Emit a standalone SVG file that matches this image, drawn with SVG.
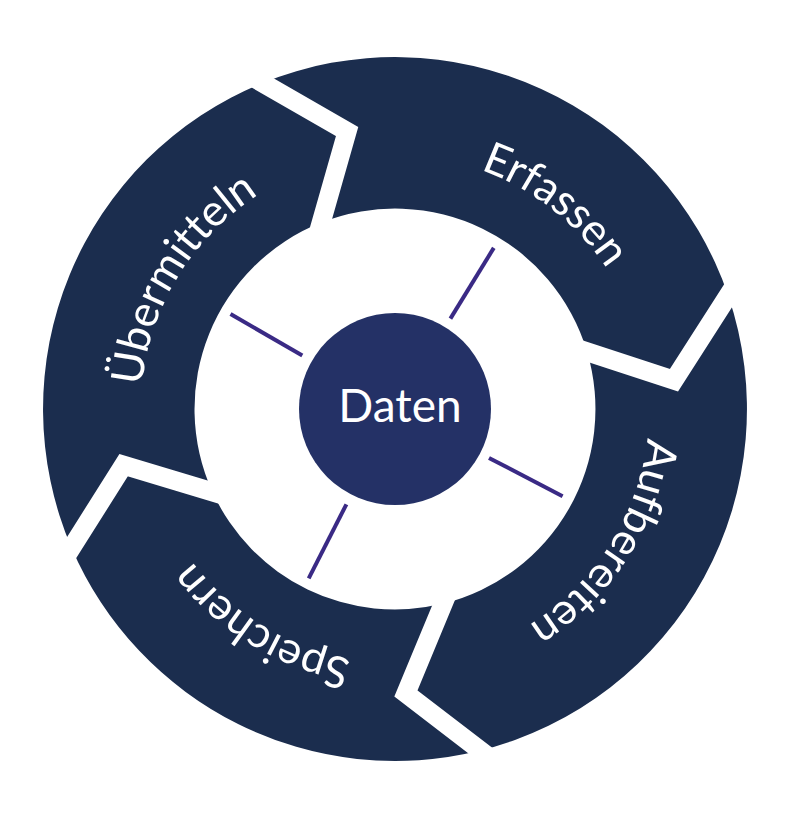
<svg xmlns="http://www.w3.org/2000/svg" width="800" height="814" viewBox="0 0 800 814">
  <style>
    .seg { fill: #1b2d4e; }
    .lbl { fill: #ffffff; font-family: Lato, "Open Sans", sans-serif; font-size: 44px; font-variant-ligatures: none; font-feature-settings: "liga" 0, "clig" 0; }
    .spoke { stroke: #3a2a85; stroke-width: 4; fill: none; }
    .gap { stroke: #000000; stroke-width: 19; fill: none; stroke-linejoin: miter; stroke-miterlimit: 10; }
  </style>
  <defs>
    <mask id="gaps" maskUnits="userSpaceOnUse" x="0" y="0" width="800" height="814">
      <rect x="0" y="0" width="800" height="814" fill="#ffffff"/>
      <polyline class="gap" points="237.2,68.3 347.1,131.5 313.4,249.9"/>
      <polyline class="gap" points="744.5,270.2 674.0,380.2 561.0,343.2"/>
      <polyline class="gap" points="502.5,767.6 405.9,693.5 454.4,576.6"/>
      <polyline class="gap" points="55.9,572.5 123.6,465.2 239.0,499.8"/>
    </mask>
    <path id="pErfassen" d="M225.4,219.9 A254,254 0 0 1 619.1,528.6"/>
    <path id="pAufbereiten" d="M566.3,221.4 A254,254 0 0 1 298.2,643.8"/>
    <path id="pSpeichern" d="M585.2,577.3 A254,254 0 0 1 158.7,315.9"/>
    <path id="pUebermitteln" d="M227.0,599.5 A254,254 0 0 1 487.7,172.5"/>
  </defs>
  <rect x="0" y="0" width="800" height="814" fill="#ffffff"/>
  <g id="ring" mask="url(#gaps)">
    <g id="erfassen">
      <path class="seg" d="M262.6,82.9 A352,352 0 0 1 728.2,295.6 L674.0,380.2 L587.1,351.7 A200.5,200.5 0 0 0 321.2,222.6 L347.1,131.5 Z"/>
      <text class="lbl"><textPath href="#pErfassen" startOffset="50%" text-anchor="middle">Erfassen</textPath></text>
    </g>
    <g id="aufbereiten">
      <path class="seg" d="M728.2,295.6 A352,352 0 0 1 480.2,750.5 L405.9,693.5 L443.2,603.6 A200.5,200.5 0 0 0 587.1,351.7 L674.0,380.2 Z"/>
      <text class="lbl"><textPath href="#pAufbereiten" startOffset="50%" text-anchor="middle">Aufbereiten</textPath></text>
    </g>
    <g id="speichern">
      <path class="seg" d="M480.2,750.5 A352,352 0 0 1 71.5,547.7 L123.6,465.2 L212.4,491.8 A200.5,200.5 0 0 0 443.2,603.6 L405.9,693.5 Z"/>
      <text class="lbl"><textPath href="#pSpeichern" startOffset="50%" text-anchor="middle">Speichern</textPath></text>
    </g>
    <g id="uebermitteln">
      <path class="seg" d="M71.5,547.7 A352,352 0 0 1 262.6,82.9 L347.1,131.5 L321.2,222.6 A200.5,200.5 0 0 0 212.4,491.8 L123.6,465.2 Z"/>
      <text class="lbl"><textPath href="#pUebermitteln" startOffset="50%" text-anchor="middle">Übermitteln</textPath></text>
    </g>
  </g>
  <g id="connectors">
    <line class="spoke" x1="302.3" y1="355.5" x2="230.5" y2="314.0"/>
    <line class="spoke" x1="450.4" y1="318.6" x2="493.8" y2="247.9"/>
    <line class="spoke" x1="489.0" y1="457.9" x2="562.6" y2="496.3"/>
    <line class="spoke" x1="346.4" y1="504.3" x2="308.7" y2="578.3"/>
  </g>
  <g id="daten">
    <circle cx="395" cy="409" r="96" fill="#243166"/>
    <text x="400" y="422" text-anchor="middle" fill="#ffffff" font-family="Lato, 'Open Sans', sans-serif" font-size="46">Daten</text>
  </g>
</svg>
